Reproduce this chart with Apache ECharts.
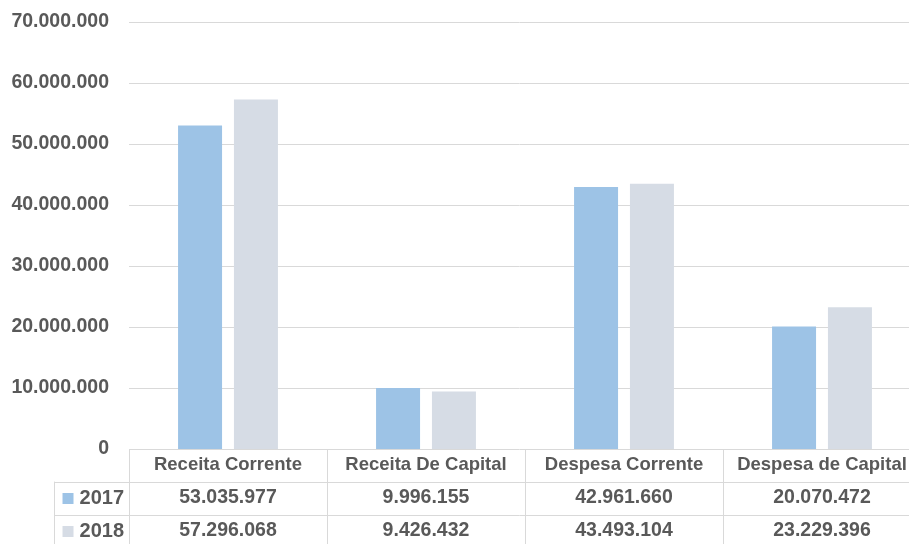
<!DOCTYPE html>
<html>
<head>
<meta charset="utf-8">
<script src="https://cdn.jsdelivr.net/npm/echarts@6/dist/echarts.min.js"></script>
<style>html,body{margin:0;padding:0;background:#fff}#c{width:909px;height:544px}</style>
</head>
<body>
<div id="c"></div>
<script>
const categories = ['Receita Corrente', 'Receita De Capital', 'Despesa Corrente', 'Despesa de Capital'];
const years = ['2017', '2018'];
const values2017 = [53035977, 9996155, 42961660, 20070472];
const values2018 = [57296068, 9426432, 43493104, 23229396];
const yMin = 0, yMax = 70000000, yStep = 10000000;

const colors = ['#9DC3E6', '#D6DCE5'];
const txt = '#595959';
const border = '#D9D9D9';
const font = 'Liberation Sans';
const fmt = n => String(n).replace(/\B(?=(\d{3})+(?!\d))/g, '.');

const chart = echarts.init(document.getElementById('c'), null, {renderer: 'canvas'});

const tableX = (gi, formatter, size) => ({
  type: 'category', gridIndex: gi, data: categories, position: 'top',
  axisLine: {show: true, lineStyle: {color: border, width: 1}},
  axisTick: {show: false},
  splitLine: {show: true, interval: 0, lineStyle: {color: border, width: 1}},
  axisLabel: {inside: true, interval: 0, margin: 16, verticalAlign: 'middle',
    fontFamily: font, fontWeight: 'bold', fontSize: size, color: txt, formatter: formatter}
});
const yearY = (gi, yi) => ({
  type: 'category', gridIndex: gi, data: [years[yi]], position: 'left',
  axisLine: {show: false},
  axisTick: {show: true, length: 75, interval: 0, lineStyle: {color: border}},
  axisLabel: {margin: 5, formatter: v => '{sq|}{t|' + v + '}',
    rich: {
      sq: {width: 11, height: 11, backgroundColor: colors[yi]},
      t: {fontFamily: font, fontWeight: 'bold', fontSize: 20, color: txt, padding: [0, 0, 0, 6]}
    }}
});
const borderY = (gi) => ({
  type: 'category', gridIndex: gi, data: [''], position: 'left', offset: 75,
  axisLine: {show: true, lineStyle: {color: border}},
  axisTick: {show: false}, axisLabel: {show: false}
});
const gridBase = {left: 129, width: 792, outerBoundsMode: 'none', containLabel: false};

chart.setOption({
  animation: false,
  grid: [
    Object.assign({top: 22, height: 427}, gridBase),
    Object.assign({top: 449, height: 33}, gridBase),
    Object.assign({top: 482, height: 33}, gridBase),
    Object.assign({top: 515, height: 33}, gridBase)
  ],
  xAxis: [
    {type: 'category', gridIndex: 0, data: categories,
      axisLine: {show: false}, axisTick: {show: false}, axisLabel: {show: false}},
    tableX(1, v => v, 18.5),
    tableX(2, (v, i) => fmt(values2017[i]), 19.5),
    tableX(3, (v, i) => fmt(values2018[i]), 19.5)
  ],
  yAxis: [
    {type: 'value', gridIndex: 0, min: yMin, max: yMax, interval: yStep,
      axisLine: {show: false}, axisTick: {show: false},
      splitLine: {lineStyle: {color: border, width: 1}},
      axisLabel: {margin: 20, fontFamily: font, fontWeight: 'bold', fontSize: 19.5, color: txt,
        formatter: v => fmt(v)}},
    {type: 'value', gridIndex: 1, show: false},
    yearY(2, 0), borderY(2),
    yearY(3, 1), borderY(3)
  ],
  series: [
    {name: years[0], type: 'bar', xAxisIndex: 0, yAxisIndex: 0, data: values2017,
      barWidth: 44, barGap: '27%', itemStyle: {color: colors[0]}},
    {name: years[1], type: 'bar', xAxisIndex: 0, yAxisIndex: 0, data: values2018,
      barWidth: 44, itemStyle: {color: colors[1]}}
  ]
});
</script>
</body>
</html>
